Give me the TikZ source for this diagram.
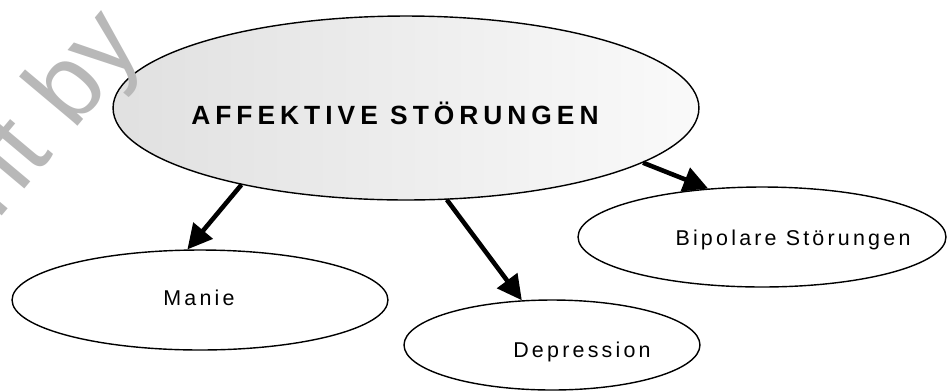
\documentclass[tikz,border=0pt]{standalone}
\usepackage{fontspec}
\usepackage{tikz}
\usetikzlibrary{positioning, arrows, arrows.meta, shapes.geometric}
\newfontfamily\diagfont[LetterSpace=15]{Liberation Sans}
\newfontfamily\headfont[LetterSpace=19]{Liberation Sans}
\newfontfamily\markfont{Liberation Sans}

\begin{document}
\begin{tikzpicture}[x=0.02cm, y=-0.02cm,
  ell/.style={ellipse, draw, line width=0.8pt, inner sep=0pt},
  lbl/.style={anchor=base, inner sep=0pt, font=\diagfont\fontsize{12.2}{14}\selectfont},
  arr/.style={line width=2.6pt, -{Triangle[length=14pt,width=14pt]}}]
\useasboundingbox (0,0) rectangle (947,390);

% Main ellipse
\node[ell, left color=black!12, right color=black!2, minimum width=11.72cm, minimum height=3.68cm]
  (aff) at (406,108) {};
\node[anchor=base, inner sep=0pt, font=\headfont\bfseries\fontsize{15}{17}\selectfont]
  (afftxt) at (395,124) {AFFEKTIVE STÖRUNGEN};

% Sub ellipses
\node[ell, fill=white, minimum width=7.52cm, minimum height=2cm] (manie) at (200,300) {};
\node[lbl] (manietxt) at (199,305) {Manie};
\node[ell, fill=white, minimum width=5.92cm, minimum height=1.8cm] (depr) at (552,345) {};
\node[lbl] (deprtxt) at (582,357) {Depression};
\node[ell, fill=white, minimum width=7.36cm, minimum height=2cm] (bip) at (762,237) {};
\node[lbl] (biptxt) at (793,245) {Bipolare Störungen};

% Arrows
\draw[arr] (aff.205) -- (manie.104);
\draw[arr] (aff.294) -- (depr.124);
\draw[arr] (aff.347) -- (bip.138);

% Watermark
\node[text=black!28, rotate=50, anchor=base west, font=\markfont\fontsize{60}{70}\selectfont]
  (mark) at (-6,226) {nt by};
\end{tikzpicture}
\end{document}
